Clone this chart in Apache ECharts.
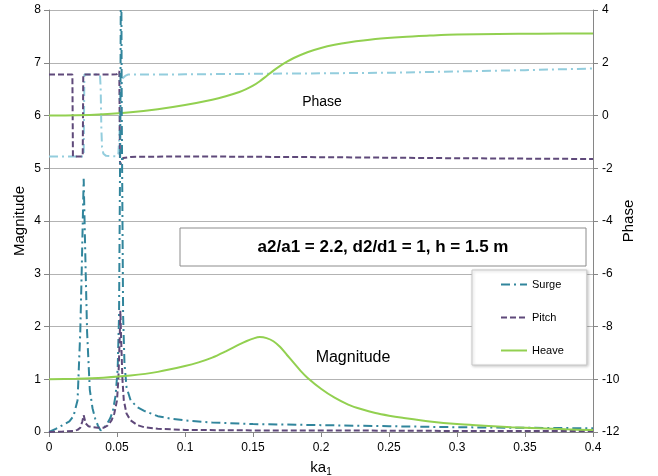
<!DOCTYPE html>
<html>
<head>
<meta charset="utf-8">
<script src="https://cdn.jsdelivr.net/npm/echarts@6/dist/echarts.min.js"></script>
<style>
  html, body { margin: 0; padding: 0; background: #fff; }
  #chart { width: 658px; height: 476px; }
</style>
</head>
<body>
<div id="chart"></div>
<script>
// x axis ticks (ka1)
const xTicks = [0, 0.05, 0.1, 0.15, 0.2, 0.25, 0.3, 0.35, 0.4];

// Surge magnitude (left axis)
const surgeMagX = [0, 0.005, 0.01, 0.015, 0.018, 0.021, 0.023, 0.024, 0.0255, 0.027, 0.028, 0.03, 0.032, 0.034, 0.036, 0.038, 0.04, 0.043, 0.045, 0.047, 0.049, 0.0505, 0.0515, 0.0525, 0.053, 0.0535, 0.0545, 0.0555, 0.057, 0.06, 0.065, 0.07, 0.08, 0.09, 0.1, 0.12, 0.15, 0.2, 0.25, 0.3, 0.35, 0.4];
const surgeMagY = [0, 0.06, 0.13, 0.2, 0.3, 0.6, 1.9, 3.0, 4.8, 3.0, 1.9, 0.8, 0.45, 0.25, 0.12, 0.03, 0.06, 0.17, 0.26, 0.4, 0.7, 1.2, 2.2, 6, 10, 6, 2.2, 1.3, 0.85, 0.6, 0.47, 0.4, 0.3, 0.25, 0.22, 0.18, 0.15, 0.13, 0.11, 0.09, 0.08, 0.07];

// Pitch magnitude (left axis)
const pitchMagX = [0, 0.01, 0.018, 0.021, 0.023, 0.0245, 0.0255, 0.027, 0.029, 0.032, 0.036, 0.04, 0.043, 0.046, 0.048, 0.05, 0.051, 0.052, 0.0525, 0.053, 0.054, 0.055, 0.057, 0.06, 0.065, 0.07, 0.08, 0.09, 0.1, 0.15, 0.2, 0.3, 0.4];
const pitchMagY = [0, 0.01, 0.02, 0.04, 0.08, 0.2, 0.32, 0.16, 0.11, 0.09, 0.08, 0.08, 0.12, 0.22, 0.35, 0.6, 1.0, 1.8, 2.3, 1.8, 1.0, 0.6, 0.35, 0.22, 0.13, 0.09, 0.06, 0.05, 0.04, 0.03, 0.03, 0.02, 0.02];

// Heave magnitude (left axis)
const heaveMagX = [0, 0.02, 0.04, 0.06, 0.08, 0.1, 0.11, 0.12, 0.13, 0.14, 0.145, 0.15, 0.155, 0.16, 0.165, 0.17, 0.175, 0.18, 0.185, 0.19, 0.2, 0.21, 0.22, 0.23, 0.24, 0.25, 0.26, 0.28, 0.3, 0.32, 0.34, 0.36, 0.38, 0.4];
const heaveMagY = [1.0, 1.01, 1.03, 1.07, 1.14, 1.25, 1.32, 1.41, 1.53, 1.66, 1.72, 1.77, 1.8, 1.78, 1.72, 1.61, 1.46, 1.31, 1.16, 1.03, 0.82, 0.65, 0.52, 0.43, 0.36, 0.31, 0.27, 0.2, 0.15, 0.12, 0.09, 0.07, 0.05, 0.04];

// Surge phase (right axis)
const surgePhX = [0, 0.0255, 0.026, 0.0375, 0.038, 0.0385, 0.039, 0.04, 0.042, 0.043, 0.05, 0.051, 0.052, 0.0525, 0.053, 0.054, 0.056, 0.058, 0.1, 0.15, 0.2, 0.25, 0.3, 0.35, 0.4];
const surgePhY = [-1.55, -1.55, 1.55, 1.55, 1.0, -0.5, -1.2, -1.45, -1.53, -1.55, -1.55, -1.45, -0.5, 0.5, 1.2, 1.4, 1.5, 1.55, 1.56, 1.58, 1.6, 1.62, 1.67, 1.72, 1.78];

// Pitch phase (right axis)
const pitchPhX = [0, 0.0172, 0.0176, 0.0248, 0.0252, 0.0497, 0.0517, 0.0522, 0.0535, 0.0545, 0.06, 0.1, 0.2, 0.3, 0.4];
const pitchPhY = [1.55, 1.55, -1.55, -1.55, 1.55, 1.56, 1.68, -1.86, -1.75, -1.61, -1.57, -1.55, -1.58, -1.62, -1.65];

// Heave phase (right axis)
const heavePhX = [0, 0.02, 0.04, 0.06, 0.08, 0.1, 0.12, 0.13, 0.14, 0.145, 0.15, 0.155, 0.16, 0.165, 0.17, 0.175, 0.18, 0.19, 0.2, 0.21, 0.22, 0.24, 0.26, 0.28, 0.3, 0.33, 0.36, 0.4];
const heavePhY = [0, 0.01, 0.05, 0.12, 0.24, 0.4, 0.6, 0.73, 0.89, 1.0, 1.13, 1.3, 1.5, 1.7, 1.88, 2.04, 2.18, 2.4, 2.56, 2.68, 2.77, 2.9, 2.98, 3.03, 3.07, 3.09, 3.1, 3.11];

const zip = (xs, ys) => xs.map((x, i) => [x, ys[i]]);

const chart = echarts.init(document.getElementById('chart'));
const font = 'Liberation Sans, Arial, sans-serif';

const option = {
  animation: false,
  backgroundColor: '#fff',
  grid: { left: 49, right: 65, top: 10, bottom: 44, outerBoundsMode: 'none' },
  xAxis: {
    type: 'value',
    min: xTicks[0],
    max: xTicks[xTicks.length - 1],
    interval: 0.05,
    name: '{a|ka}{s|1}',
    nameLocation: 'middle',
    nameGap: 26,
    nameTextStyle: {
      rich: {
        a: { fontSize: 15, fontFamily: font, color: '#000' },
        s: { fontSize: 10, fontFamily: font, color: '#000', padding: [9, 0, 0, 0] }
      }
    },
    axisLine: { lineStyle: { color: '#868686' } },
    axisTick: { show: true, length: 5, lineStyle: { color: '#868686' } },
    axisLabel: { color: '#000', fontSize: 12, fontFamily: font, margin: 10 },
    splitLine: { show: false }
  },
  yAxis: [
    {
      type: 'value',
      min: 0,
      max: 8,
      interval: 1,
      name: 'Magnitude',
      nameLocation: 'middle',
      nameGap: 22,
      nameMoveOverlap: false,
      nameTextStyle: { fontSize: 15, fontFamily: font, color: '#000' },
      axisLine: { show: true, lineStyle: { color: '#868686' } },
      axisTick: { show: true, length: 5, lineStyle: { color: '#868686' } },
      axisLabel: { color: '#000', fontSize: 12, fontFamily: font, margin: 8 },
      splitLine: { show: true, lineStyle: { color: '#b3b3b3', width: 1 } }
    },
    {
      type: 'value',
      min: -12,
      max: 4,
      interval: 2,
      name: 'Phase',
      nameLocation: 'middle',
      nameGap: 28,
      nameRotate: 90,
      nameMoveOverlap: false,
      nameTextStyle: { fontSize: 15, fontFamily: font, color: '#000' },
      axisLine: { show: true, lineStyle: { color: '#868686' } },
      axisTick: { show: true, length: 5, lineStyle: { color: '#868686' } },
      axisLabel: { color: '#000', fontSize: 12, fontFamily: font, margin: 9 },
      splitLine: { show: false }
    }
  ],
  legend: {
    data: ['Surge', 'Pitch', 'Heave'],
    orient: 'vertical',
    left: 472,
    top: 270,
    itemWidth: 26,
    itemHeight: 12,
    itemGap: 22,
    padding: [9, 23, 9, 28],
    backgroundColor: '#fff',
    borderColor: '#c8c8c8',
    borderWidth: 1,
    shadowColor: 'rgba(0,0,0,0.2)',
    shadowBlur: 3,
    shadowOffsetX: 1,
    shadowOffsetY: 1,
    itemStyle: { opacity: 0 },
    textStyle: { fontSize: 11, fontFamily: font, color: '#000' }
  },
  graphic: [
    {
      type: 'rect',
      shape: { x: 180, y: 228, width: 406, height: 38 },
      style: { fill: '#fff', stroke: '#8c8c8c', lineWidth: 1 },
      z: 100
    },
    {
      type: 'text',
      x: 383,
      y: 247,
      style: {
        text: 'a2/a1 = 2.2, d2/d1 = 1, h = 1.5 m',
        font: 'bold 17px ' + font,
        fill: '#000',
        align: 'center',
        verticalAlign: 'middle'
      },
      z: 101
    },
    {
      type: 'text',
      x: 322,
      y: 102,
      style: { text: 'Phase', font: '14px ' + font, fill: '#000', align: 'center', verticalAlign: 'middle' },
      z: 101
    },
    {
      type: 'text',
      x: 353,
      y: 358,
      style: { text: 'Magnitude', font: '16px ' + font, fill: '#000', align: 'center', verticalAlign: 'middle' },
      z: 101
    }
  ],
  series: [
    {
      name: 'Surge phase',
      type: 'line',
      yAxisIndex: 1,
      symbol: 'none',
      data: zip(surgePhX, surgePhY),
      lineStyle: { color: '#93cddd', width: 2, type: [9, 4, 2, 4] },
      itemStyle: { color: '#93cddd' }
    },
    {
      name: 'Pitch phase',
      type: 'line',
      yAxisIndex: 1,
      symbol: 'none',
      data: zip(pitchPhX, pitchPhY),
      lineStyle: { color: '#5f497a', width: 2, type: [6, 3] },
      itemStyle: { color: '#5f497a' }
    },
    {
      name: 'Heave phase',
      type: 'line',
      yAxisIndex: 1,
      symbol: 'none',
      smooth: 0.3,
      data: zip(heavePhX, heavePhY),
      lineStyle: { color: '#92d050', width: 2 },
      itemStyle: { color: '#92d050' }
    },
    {
      name: 'Surge',
      type: 'line',
      yAxisIndex: 0,
      symbol: 'none',
      data: zip(surgeMagX, surgeMagY),
      lineStyle: { color: '#31859c', width: 2, type: [9, 4, 2, 4] },
      itemStyle: { color: '#31859c' }
    },
    {
      name: 'Pitch',
      type: 'line',
      yAxisIndex: 0,
      symbol: 'none',
      data: zip(pitchMagX, pitchMagY),
      lineStyle: { color: '#5f497a', width: 2, type: [6, 3] },
      itemStyle: { color: '#5f497a' }
    },
    {
      name: 'Heave',
      type: 'line',
      yAxisIndex: 0,
      symbol: 'none',
      smooth: 0.3,
      data: zip(heaveMagX, heaveMagY),
      lineStyle: { color: '#92d050', width: 2 },
      itemStyle: { color: '#92d050' }
    }
  ]
};

chart.setOption(option);
</script>
</body>
</html>
